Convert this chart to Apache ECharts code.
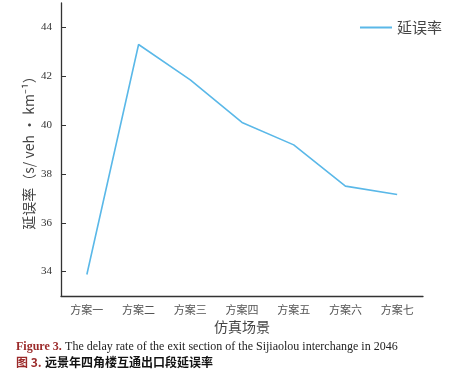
<!DOCTYPE html>
<html><head><meta charset="utf-8">
<script src="https://cdn.jsdelivr.net/npm/echarts@6/dist/echarts.min.js"></script>
<style>html,body{margin:0;padding:0;background:#fff}#c{width:467px;height:373px}</style>
</head><body><div id="c"></div>
<script>
var categories = ['方案一','方案二','方案三','方案四','方案五','方案六','方案七'];
var delayRate = [33.88, 43.30, 41.85, 40.11, 39.19, 37.50, 37.16];
var yTicks = [34, 36, 38, 40, 42, 44];
var seriesName = '延误率';
var yName = '延误率（s/ veh • km⁻¹）';
var xName = '仿真场景';

var chart = echarts.init(document.getElementById('c'));
chart.setOption({
  animation: false,
  backgroundColor: '#fff',
  grid: {left: 61, right: 44, top: 3, bottom: 77, containLabel: false},
  legend: {
    data: [seriesName], right: 20, top: 15, itemWidth: 32, itemHeight: 2, itemGap: 9,
    icon: 'rect',
    textStyle: {fontSize: 15, color: '#444', fontFamily: 'Noto Sans CJK SC'}
  },
  xAxis: {
    type: 'category', data: categories, boundaryGap: true,
    name: xName, nameLocation: 'middle', nameGap: 19,
    nameTextStyle: {fontSize: 14, color: '#444', fontFamily: 'Noto Sans CJK SC'},
    axisLine: {lineStyle: {color: '#333', width: 1.3}},
    axisTick: {alignWithLabel: true, inside: true, length: 5, lineStyle: {color: '#333'}},
    axisLabel: {fontSize: 11, color: '#555', margin: 8, fontFamily: 'Noto Sans CJK SC'},
    splitLine: {show: false}
  },
  yAxis: {
    type: 'value', min: 33, max: 45,
    name: yName, nameLocation: 'middle', nameGap: 25, nameMoveOverlap: false,
    nameTextStyle: {fontSize: 14, color: '#444', fontFamily: 'Noto Sans CJK SC'},
    axisLine: {show: true, lineStyle: {color: '#333', width: 1.3}},
    axisTick: {show: true, inside: true, length: 5, lineStyle: {color: '#333'}, customValues: yTicks},
    axisLabel: {fontSize: 11, color: '#333', margin: 9, fontFamily: 'Liberation Serif', customValues: yTicks},
    splitLine: {show: false}
  },
  series: [{
    name: seriesName, type: 'line', data: delayRate, symbol: 'none',
    lineStyle: {color: '#5ab8e8', width: 1.6}, itemStyle: {color: '#5ab8e8'}
  }],
  graphic: [
    {type: 'text', left: 16, top: 341, style: {
      text: '{r|Figure 3.} {b|The delay rate of the exit section of the Sijiaolou interchange in 2046}',
      rich: {
        r: {fontFamily: 'Liberation Serif', fontWeight: 'bold', fontSize: 12, fill: '#9b2a2a'},
        b: {fontFamily: 'Liberation Serif', fontSize: 12, fill: '#222'}
      }
    }},
    {type: 'text', left: 16, top: 356, style: {
      text: '{r|图 3.} {b|远景年四角楼互通出口段延误率}',
      rich: {
        r: {fontFamily: 'Noto Sans CJK SC', fontWeight: 'bold', fontSize: 12, fill: '#9b2a2a'},
        b: {fontFamily: 'Noto Sans CJK SC', fontWeight: 'bold', fontSize: 12, fill: '#111'}
      }
    }}
  ]
});
</script></body></html>
